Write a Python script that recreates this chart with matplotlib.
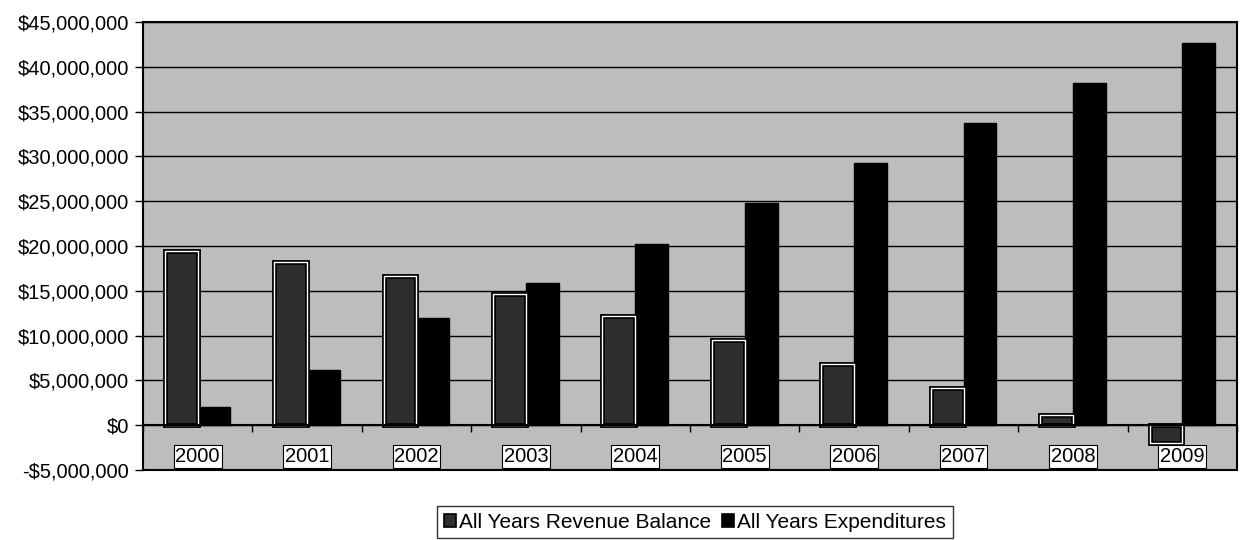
import numpy as np
import matplotlib
matplotlib.use('Agg')
import matplotlib.pyplot as plt
from matplotlib.ticker import FuncFormatter
from matplotlib.patches import Patch

# values (dollars)
years = ['2000', '2001', '2002', '2003', '2004', '2005', '2006', '2007', '2008', '2009']
revenue_balance = [19.5e6, 18.2e6, 16.6e6, 14.7e6, 12.2e6, 9.5e6, 6.8e6, 4.1e6, 1.1e6, -2.0e6]
expenditures = [2.0e6, 6.2e6, 12.0e6, 15.9e6, 20.2e6, 24.8e6, 29.3e6, 33.7e6, 38.2e6, 42.7e6]

plt.rcParams['font.family'] = ['Liberation Sans', 'DejaVu Sans']

fig = plt.figure(figsize=(12.41, 5.4), dpi=100)
ax = fig.add_axes([0.1152, 0.1296, 0.8816, 0.8296])
ax.set_facecolor('#bdbdbd')

x = np.arange(len(years))
w = 0.30
# revenue bars: black outer border, white inner line, dark fill
ax.bar(x - w / 2, revenue_balance, w, color='#2e2e2e', edgecolor='black', linewidth=3.5, zorder=3)
ax.bar(x - w / 2, revenue_balance, w, color='none', edgecolor='white', linewidth=1.0, zorder=4)
ax.bar(x + w / 2, expenditures, w, color='black', edgecolor='black', linewidth=1, zorder=3)

ax.set_xlim(-0.5, len(years) - 0.5)
ax.set_ylim(-5e6, 45e6)
ax.set_yticks(np.arange(-5e6, 45e6 + 1, 5e6))
ax.yaxis.set_major_formatter(FuncFormatter(
    lambda v, p: ('-$' if v < 0 else '$') + format(abs(int(round(v))), ',')))
ax.tick_params(axis='y', labelsize=14.5, length=6, width=1, direction='out', pad=4)
ax.grid(axis='y', color='black', linewidth=1, zorder=1)
ax.set_xticks([])

for s in ax.spines.values():
    s.set_linewidth(1.5)
    s.set_color('black')

# category axis drawn through zero
ax.axhline(0, color='black', linewidth=1.5, zorder=5)
sec = ax.secondary_xaxis(0.1)
sec.set_xticks(np.arange(-0.5, len(years), 1.0))
sec.set_xticklabels([])
sec.tick_params(length=5, width=1, direction='out')
sec.spines['bottom'].set_visible(False)

for i, yr in enumerate(years):
    ax.text(i, -3.5e6, yr, ha='center', va='center', fontsize=14.5, zorder=6,
            bbox=dict(boxstyle='square,pad=0.08', facecolor='white', edgecolor='black', linewidth=0.8))

handles = [Patch(facecolor='#2e2e2e', edgecolor='black', linewidth=1.2),
           Patch(facecolor='black', edgecolor='black', linewidth=1.2)]
leg = fig.legend(handles, ['All Years Revenue Balance', 'All Years Expenditures'],
                 loc='center', bbox_to_anchor=(695 / 1241, 1 - 522 / 540), ncol=2,
                 fontsize=15, frameon=True, fancybox=False, edgecolor='black',
                 handlelength=0.6, handleheight=0.6, handletextpad=0.15,
                 columnspacing=0.5, borderpad=0.3, borderaxespad=0)
leg.get_frame().set_linewidth(1.0)

fig.savefig('out.png', dpi=100, facecolor='white')
